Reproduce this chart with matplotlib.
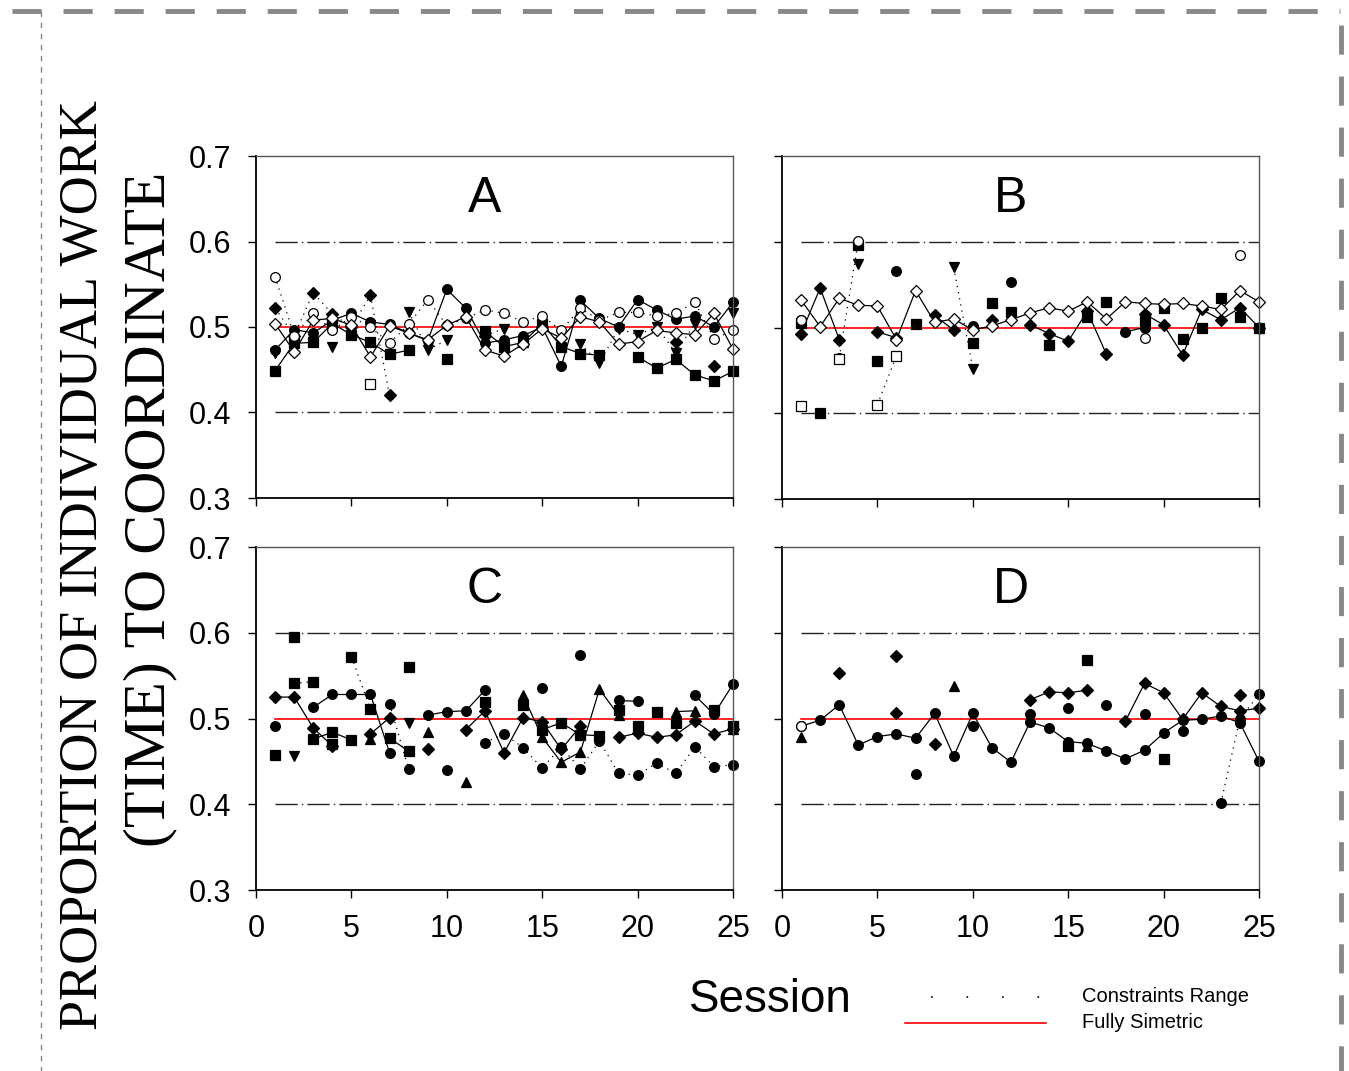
import numpy as np
import matplotlib
matplotlib.use("Agg")
import matplotlib.pyplot as plt
from matplotlib.lines import Line2D

nan = np.nan
sessions = np.arange(1, 26)

# panel A
A_open_circle = [0.559, 0.490, 0.516, 0.496, 0.512, 0.500, 0.481, 0.503, 0.532, 0.502, 0.510, 0.520, 0.516,
                 0.506, 0.513, 0.496, 0.522, 0.508, 0.517, 0.517, 0.513, 0.516, 0.529, 0.486, 0.496]
A_open_diamond = [0.504, 0.471, 0.508, 0.510, 0.502, 0.465, 0.501, 0.493, 0.485, 0.502, 0.512, 0.473, 0.466,
                  0.480, 0.498, 0.487, 0.512, 0.506, 0.480, 0.483, 0.496, 0.493, 0.491, 0.516, 0.474]
A_circle = [0.473, 0.497, 0.493, 0.508, 0.516, 0.506, 0.503, 0.493, 0.484, 0.544, 0.522, 0.481, 0.485,
            0.490, 0.500, 0.454, 0.531, 0.510, 0.500, 0.532, 0.520, 0.509, 0.513, 0.500, 0.529]
A_square = [0.449, 0.481, 0.482, 0.504, 0.491, 0.482, 0.468, 0.473, nan, 0.463, nan, 0.495, 0.477,
            0.482, 0.504, 0.477, 0.469, 0.467, nan, 0.465, 0.452, 0.462, 0.444, 0.437, 0.448]
A_diamond = [0.522, 0.490, 0.540, 0.515, 0.500, 0.537, 0.420, nan, nan, nan, nan, 0.490, nan,
             nan, 0.500, nan, nan, nan, nan, nan, nan, 0.483, nan, 0.454, nan]
A_tri_down = [0.470, nan, nan, 0.477, nan, nan, nan, 0.518, 0.473, 0.485, nan, 0.490, 0.498,
              nan, nan, nan, 0.480, 0.458, 0.498, 0.491, 0.500, 0.470, 0.504, nan, 0.516]
A_open_square = [nan, nan, nan, nan, nan, 0.433] + [nan] * 19

# panel B
B_open_diamond = [0.532, 0.501, 0.534, 0.526, 0.525, 0.486, 0.543, 0.506, 0.510, 0.497, 0.502, 0.509, 0.517,
                  0.523, 0.519, 0.530, 0.510, 0.530, 0.528, 0.527, 0.528, 0.525, 0.521, 0.543, 0.530]
B_diamond = [0.493, 0.546, 0.486, nan, 0.495, 0.488, nan, 0.514, 0.497, nan, 0.509, nan, 0.503,
             0.493, 0.484, 0.519, 0.469, nan, 0.516, 0.503, 0.468, 0.521, 0.509, 0.523, 0.500]
B_square = [0.505, 0.400, nan, 0.596, 0.461, nan, 0.504, nan, nan, 0.482, 0.528, 0.518, nan,
            0.480, nan, 0.512, 0.530, nan, 0.507, 0.523, 0.487, 0.500, 0.534, 0.512, 0.500]
B_circle = [0.509, nan, nan, nan, nan, 0.566, nan, nan, nan, 0.502, nan, 0.553, nan,
            nan, nan, nan, nan, 0.495, 0.500, nan, nan, nan, nan, nan, 0.500]
B_open_circle = [0.509, nan, 0.465, 0.601, nan, nan, nan, nan, nan, nan, nan, nan, nan,
                 nan, nan, nan, nan, nan, 0.488, nan, nan, nan, nan, 0.584, nan]
B_open_square = [0.409, nan, 0.463, nan, 0.410, 0.467] + [nan] * 19
B_tri_down = [nan, nan, nan, 0.574, nan, nan, nan, nan, 0.570, 0.452] + [nan] * 15

# panel C
C_circle_up = [0.491, nan, 0.513, 0.528, 0.528, 0.528, 0.460, nan, 0.504, 0.508, 0.509, 0.533, nan,
               nan, 0.535, nan, 0.574, nan, 0.521, 0.520, nan, nan, 0.527, 0.505, 0.540]
C_circle_low = [nan, nan, nan, nan, nan, nan, 0.517, 0.441, nan, 0.440, nan, 0.472, 0.482,
                0.466, 0.442, 0.467, 0.441, 0.474, 0.436, 0.434, 0.448, 0.436, 0.467, 0.444, 0.446]
C_square_up = [nan, 0.541, 0.543, nan, 0.572, 0.511, nan, 0.560, nan, nan, nan, 0.519, nan,
               0.516, nan, nan, nan, nan, 0.510, nan, 0.508, nan, nan, 0.510, nan]
C_square_low = [0.458, nan, 0.476, 0.484, 0.475, nan, 0.477, 0.462, nan, nan, nan, nan, nan,
                nan, 0.487, 0.495, 0.481, 0.480, nan, 0.491, nan, 0.495, nan, nan, 0.491]
C_square_iso = [nan, 0.595, nan, 0.470] + [nan] * 21
C_diamond = [0.525, 0.525, 0.489, 0.468, nan, 0.482, 0.501, nan, 0.465, nan, 0.487, 0.509, 0.460,
             0.501, 0.496, 0.464, 0.491, nan, 0.478, 0.483, 0.478, 0.481, 0.497, 0.482, 0.488]
C_tri_up = [nan, nan, nan, nan, nan, 0.476, nan, nan, 0.484, nan, 0.426, nan, nan,
            0.527, 0.478, 0.449, 0.461, 0.534, 0.504, nan, nan, 0.508, 0.509, nan, 0.488]
C_tri_down = [nan, 0.456, nan, nan, nan, nan, nan, 0.495] + [nan] * 17

# panel D
D_circle_main = [0.491, 0.498, 0.516, 0.469, 0.479, 0.482, 0.477, 0.506, 0.456, 0.506, 0.466, 0.449, 0.496,
                 0.489, 0.473, 0.471, 0.462, 0.453, 0.463, 0.483, 0.498, 0.499, 0.503, 0.495, 0.450]
D_open_circle = [0.491] + [nan] * 24
D_circle_2 = [nan, nan, nan, nan, nan, nan, 0.435, nan, nan, 0.491, nan, nan, 0.505,
              nan, 0.512, nan, 0.516, nan, 0.505, nan, 0.486, nan, 0.401, 0.500, 0.528]
D_diamond = [nan, nan, 0.553, nan, nan, 0.573, nan, 0.470, nan, nan, nan, nan, 0.522,
             0.531, 0.530, 0.533, nan, 0.497, 0.541, 0.530, 0.499, 0.530, 0.514, 0.509, 0.512]
D_diamond_iso = [nan] * 5 + [0.506] + [nan] * 17 + [0.527, nan]
D_tri_up = [0.479] + [nan] * 7 + [0.538] + [nan] * 6 + [0.468] + [nan] * 9
D_square = [nan] * 14 + [0.468, 0.568, nan, nan, nan, 0.453] + [nan] * 5

constraint_low, constraint_high, symmetric = 0.4, 0.6, 0.5

# (values, marker, filled, linestyle)
panels = {
    "A": [(A_square, "s", True, "-"), (A_tri_down, "v", True, ":"), (A_diamond, "D", True, ":"),
          (A_circle, "o", True, "-"), (A_open_circle, "o", False, ":"), (A_open_diamond, "D", False, "-"),
          (A_open_square, "s", False, "none")],
    "B": [(B_square, "s", True, "none"), (B_tri_down, "v", True, ":"), (B_diamond, "D", True, "-"),
          (B_circle, "o", True, "-"), (B_open_circle, "o", False, ":"), (B_open_square, "s", False, ":"),
          (B_open_diamond, "D", False, "-")],
    "C": [(C_square_up, "s", True, ":"), (C_square_low, "s", True, "-"), (C_square_iso, "s", True, "none"),
          (C_circle_low, "o", True, ":"), (C_circle_up, "o", True, "-"), (C_diamond, "D", True, "-"),
          (C_tri_up, "^", True, "-"), (C_tri_down, "v", True, "none")],
    "D": [(D_square, "s", True, "none"), (D_tri_up, "^", True, "none"), (D_diamond, "D", True, "-"),
          (D_diamond_iso, "D", True, "none"), (D_circle_2, "o", True, ":"), (D_circle_main, "o", True, "-"),
          (D_open_circle, "o", False, "none")],
}

W, H = 1349, 1071
fig = plt.figure(figsize=(W / 100, H / 100), dpi=100)
plt.rcParams["font.family"] = ["Liberation Sans", "DejaVu Sans"]

boxes = {"A": (256, 156, 733, 498), "B": (782, 156, 1259, 499),
         "C": (256, 547, 733, 890), "D": (782, 547, 1259, 890)}

dashdot = (0, (16, 3, 1, 3))
for name, series in panels.items():
    l, t, r, b = boxes[name]
    ax = fig.add_axes([l / W, 1 - b / H, (r - l) / W, (b - t) / H])
    ax.set_xlim(0, 25)
    ax.set_ylim(0.3, 0.7)
    ax.set_xticks(range(0, 26, 5))
    ax.set_yticks(np.arange(0.3, 0.71, 0.1))
    ax.tick_params(direction="out", length=6, width=1, labelsize=22)
    ax.tick_params(axis="y", pad=12)
    ax.tick_params(axis="x", pad=11)
    if name in ("A", "C"):
        ax.set_yticklabels([f"{v:.1f}" for v in np.arange(0.3, 0.71, 0.1)])
    else:
        ax.set_yticklabels([])
    if name in ("C", "D"):
        ax.set_xticklabels([str(v) for v in range(0, 26, 5)])
    else:
        ax.set_xticklabels([])
    for s in ("left", "bottom"):
        ax.spines[s].set_linewidth(1.3)
        ax.spines[s].set_color("black")
    for s in ("top", "right"):
        ax.spines[s].set_linewidth(1.0)
        ax.spines[s].set_color("#555555")

    ax.plot([1, 25], [constraint_high] * 2, color="#222222", lw=1, ls=dashdot)
    ax.plot([1, 25], [constraint_low] * 2, color="#222222", lw=1, ls=dashdot)

    for vals, mk, filled, ls in series:
        y = np.array(vals, dtype=float)
        ms = 6.5 if mk in ("D", "s") else 7
        dashes = (0, (1, 4)) if ls == ":" else ls
        ax.plot(sessions, y, ls=dashes, lw=0.9, color="black", marker=mk, ms=ms,
                mfc="black" if filled else "white", mec="black", mew=0.9, clip_on=False)

    ax.plot([1, 25], [symmetric] * 2, color="red", lw=1.2, zorder=1.5)
    ax.text(0.48, 0.875, name, transform=ax.transAxes, ha="center", va="center", fontsize=36)

# axis title (serif, two lines)
fig.text(84 / W, 1 - 565 / H, "PROPORTION OF INDIVIDUAL WORK", rotation=90, ha="center", va="center",
         fontsize=39, family=["Liberation Serif", "DejaVu Serif"])
fig.text(150 / W, 1 - 509 / H, "(TIME) TO COORDINATE", rotation=90, ha="center", va="center",
         fontsize=43, family=["Liberation Serif", "DejaVu Serif"])
fig.text(770 / W, 1 - 1000 / H, "Session", ha="center", va="center", fontsize=33)

# legend
fig.add_artist(Line2D([931 / W, 1046 / W], [1 - 997 / H] * 2, color="black", lw=1.2,
                      ls=(0, (1, 20.3)), transform=fig.transFigure))
fig.add_artist(Line2D([905 / W, 1046 / W], [1 - 1023 / H] * 2, color="red", lw=1.2,
                      transform=fig.transFigure))
fig.text(1082 / W, 1 - 997 / H, "Constraints Range", ha="left", va="center", fontsize=14.5)
fig.text(1082 / W, 1 - 1023 / H, "Fully Simetric", ha="left", va="center", fontsize=14.5)

# dashed outer frame
fig.add_artist(Line2D([12 / W, 1340 / W], [1 - 11 / H] * 2, color="#888888", lw=3.5,
                      ls=(0, (6, 4.5)), transform=fig.transFigure))
fig.add_artist(Line2D([1341 / W, 1341 / W], [1 - 25 / H, 0], color="#888888", lw=3.5,
                      ls=(0, (6, 4.5)), transform=fig.transFigure))
fig.add_artist(Line2D([41 / W, 41 / W], [1 - 11 / H, 0], color="#888888", lw=1,
                      ls=(0, (4, 4)), transform=fig.transFigure))

fig.savefig("out.png", dpi=100)
